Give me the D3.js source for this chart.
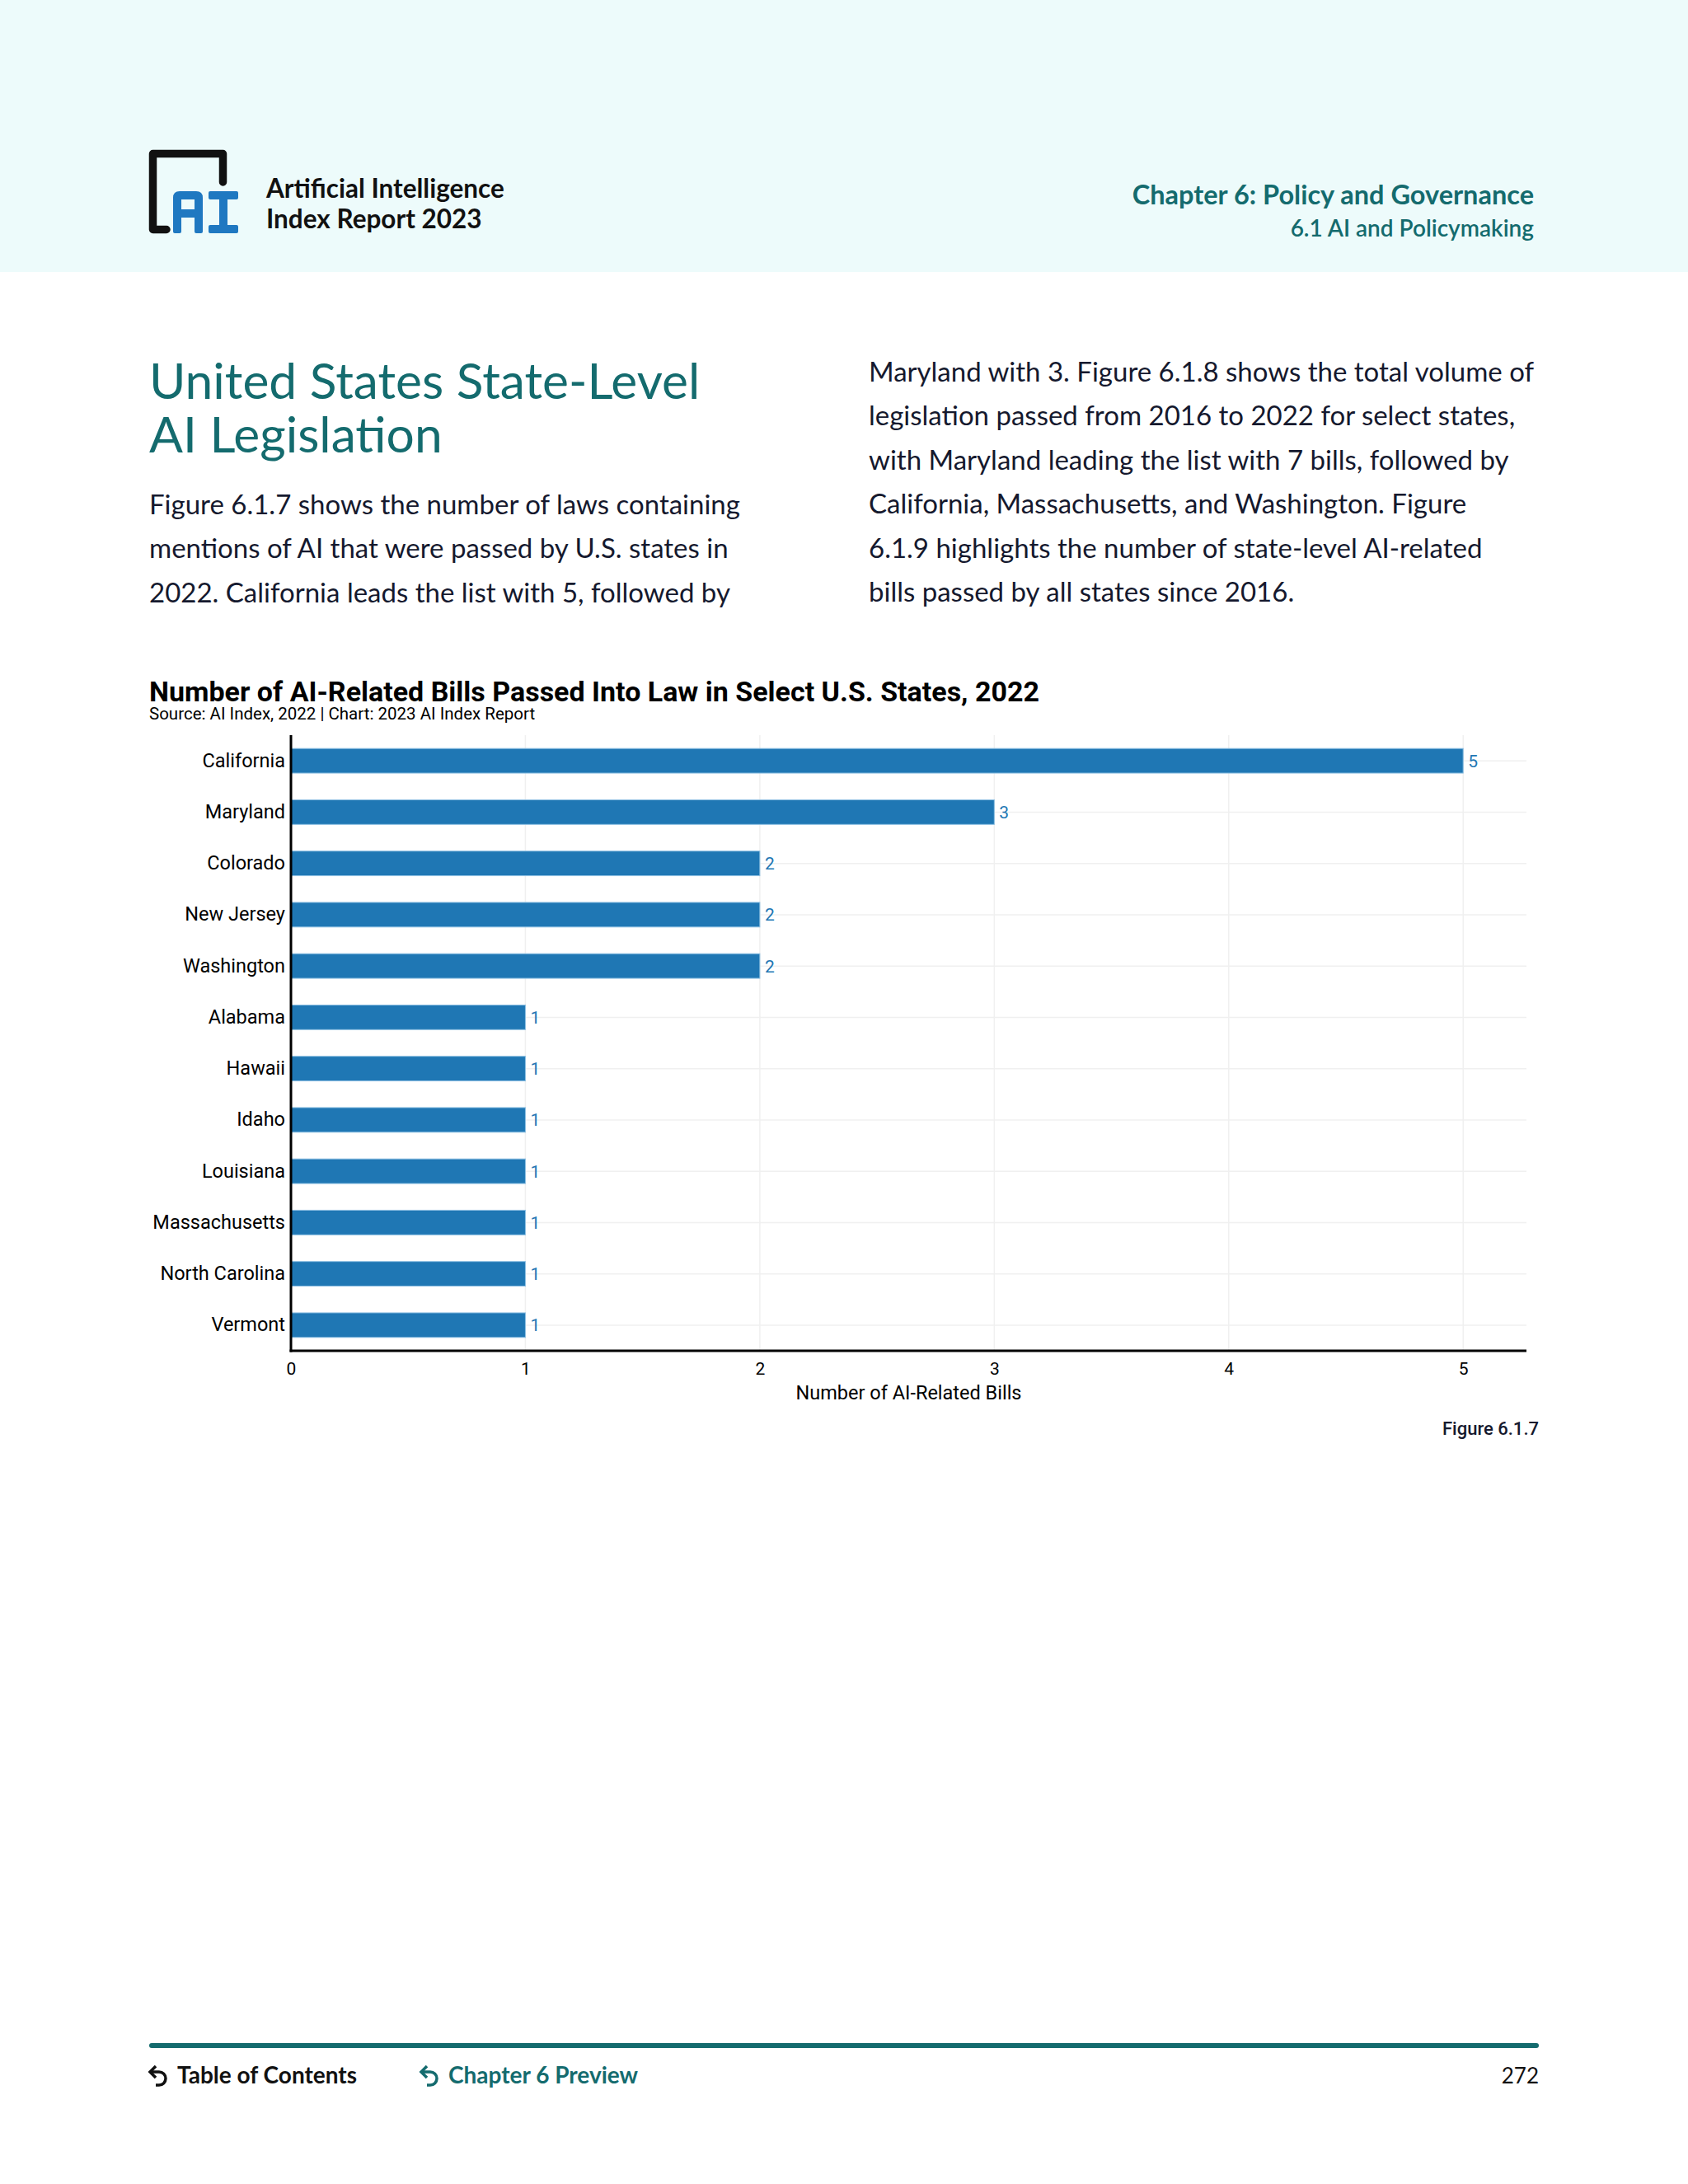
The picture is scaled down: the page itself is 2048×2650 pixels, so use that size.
<!DOCTYPE html>
<html>
<head>
<meta charset="utf-8">
<script src="https://cdn.jsdelivr.net/npm/d3@7"></script>
<style>
  body { margin: 0; background: #fff; }
  text { font-family: Lato, "Noto Sans", sans-serif; }
  .chart text { font-family: Roboto, "Noto Sans", sans-serif; }
</style>
</head>
<body>
<script>
// data
var states = ["California", "Maryland", "Colorado", "New Jersey", "Washington", "Alabama",
              "Hawaii", "Idaho", "Louisiana", "Massachusetts", "North Carolina", "Vermont"];
var bills = [5, 3, 2, 2, 2, 1, 1, 1, 1, 1, 1, 1];
var xTicks = [0, 1, 2, 3, 4, 5];

var leftText = [
  "Figure 6.1.7 shows the number of laws containing",
  "mentions of AI that were passed by U.S. states in",
  "2022. California leads the list with 5, followed by"
];
var rightText = [
  "Maryland with 3. Figure 6.1.8 shows the total volume of",
  "legislation passed from 2016 to 2022 for select states,",
  "with Maryland leading the list with 7 bills, followed by",
  "California, Massachusetts, and Washington. Figure",
  "6.1.9 highlights the number of state-level AI-related",
  "bills passed by all states since 2016."
];

var teal = "#146b6e", navy = "#15192e", blue = "#1f77b4";

var svg = d3.select("body")
            .append("svg")
            .attr("width", 2048)
            .attr("height", 2650);

// header band
svg.append("rect").attr("x", 0).attr("y", 0).attr("width", 2048).attr("height", 330)
   .attr("fill", "#edfbfb");

// logo
var logo = svg.append("g");
logo.append("path")
    .attr("d", "M202,278.5 H185.5 V186.5 H270.5 V221")
    .attr("fill", "none").attr("stroke", "#111").attr("stroke-width", 9.5)
    .attr("stroke-linejoin", "round").attr("stroke-linecap", "round");
logo.append("path")
    .attr("d", "M210,281 V240 Q210,232 218,232 H238 Q246,232 246,240 V281 Q246,283 244,283 H238 Q236,283 236,281 V264 H220 V281 Q220,283 218,283 H212 Q210,283 210,281 Z M220,242 H236 V254 H220 Z")
    .attr("fill", "#1f78c1").attr("fill-rule", "evenodd");
logo.append("path")
    .attr("d", "M253,234 Q253,232 255,232 H287 Q289,232 289,234 V240 Q289,242 287,242 H276 V273 H287 Q289,273 289,275 V281 Q289,283 287,283 H255 Q253,283 253,281 V275 Q253,273 255,273 H266 V242 H255 Q253,242 253,240 Z")
    .attr("fill", "#1f78c1");

svg.append("text").attr("x", 323).attr("y", 240)
   .attr("font-size", 31.5).attr("font-weight", 700).attr("fill", "#111")
   .text("Artificial Intelligence");
svg.append("text").attr("x", 323).attr("y", 277)
   .attr("font-size", 31.5).attr("font-weight", 700).attr("fill", "#111")
   .text("Index Report 2023");

svg.append("text").attr("x", 1861).attr("y", 248).attr("text-anchor", "end")
   .attr("font-size", 32.5).attr("font-weight", 700).attr("fill", teal)
   .text("Chapter 6: Policy and Governance");
svg.append("text").attr("x", 1861).attr("y", 287).attr("text-anchor", "end")
   .attr("font-size", 28).attr("font-weight", 600).attr("fill", teal)
   .text("6.1 AI and Policymaking");

// section heading
svg.append("text").attr("x", 181).attr("y", 484)
   .attr("font-size", 60.5).attr("fill", teal).text("United States State-Level");
svg.append("text").attr("x", 181).attr("y", 549)
   .attr("font-size", 60.5).attr("fill", teal).text("AI Legislation");

svg.selectAll(".lt").data(leftText).enter().append("text")
   .attr("x", 181).attr("y", function(d, i) { return 624 + i * 53.4; })
   .attr("font-size", 33).attr("fill", navy).text(function(d) { return d; });
svg.selectAll(".rt").data(rightText).enter().append("text")
   .attr("x", 1054).attr("y", function(d, i) { return 463 + i * 53.4; })
   .attr("font-size", 33).attr("fill", navy).text(function(d) { return d; });

// chart
var chart = svg.append("g").attr("class", "chart");

chart.append("text").attr("x", 181).attr("y", 851)
     .attr("font-size", 34).attr("font-weight", 700).attr("fill", "#000")
     .text("Number of AI-Related Bills Passed Into Law in Select U.S. States, 2022");
chart.append("text").attr("x", 181).attr("y", 873)
     .attr("font-size", 20.5).attr("fill", "#000")
     .text("Source: AI Index, 2022 | Chart: 2023 AI Index Report");

var plotL = 353, plotR = 1852, plotT = 892, plotB = 1639;

var x = d3.scaleLinear().domain([0, 5.27]).range([plotL, plotR]);
var y = d3.scaleBand().domain(states).range([plotT, plotB])
          .paddingInner(0.52).paddingOuter(0.26);

// grid
chart.selectAll(".vgrid").data(xTicks.slice(1)).enter().append("line")
     .attr("x1", function(d) { return x(d); }).attr("x2", function(d) { return x(d); })
     .attr("y1", plotT).attr("y2", plotB)
     .attr("stroke", "#f0f0f0").attr("stroke-width", 1.5);
chart.selectAll(".hgrid").data(states).enter().append("line")
     .attr("x1", plotL).attr("x2", plotR)
     .attr("y1", function(d) { return y(d) + y.bandwidth() / 2; })
     .attr("y2", function(d) { return y(d) + y.bandwidth() / 2; })
     .attr("stroke", "#f0f0f0").attr("stroke-width", 1.5);

// bars
chart.selectAll(".bar").data(states).enter().append("rect")
     .attr("x", x(0))
     .attr("y", function(d) { return y(d); })
     .attr("width", function(d, i) { return x(bills[i]) - x(0); })
     .attr("height", y.bandwidth())
     .attr("fill", blue)
     .attr("stroke", "#8fc1e3").attr("stroke-width", 1);

chart.selectAll(".val").data(states).enter().append("text")
     .attr("x", function(d, i) { return x(bills[i]) + 6; })
     .attr("y", function(d) { return y(d) + y.bandwidth() / 2; })
     .attr("dy", "0.36em")
     .attr("font-size", 21).attr("fill", blue)
     .text(function(d, i) { return bills[i]; });

// axes
var yAxis = chart.append("g").attr("transform", "translate(" + plotL + ",0)")
     .call(d3.axisLeft(y).tickSize(0).tickPadding(7));
yAxis.select(".domain").remove();
yAxis.selectAll("text").attr("font-size", 23.5).attr("fill", "#000")
     .attr("font-family", "Roboto, sans-serif");

var xAxis = chart.append("g").attr("transform", "translate(0," + plotB + ")")
     .call(d3.axisBottom(x).tickValues(xTicks).tickSize(0).tickPadding(14)
             .tickFormat(d3.format("d")));
xAxis.select(".domain").remove();
xAxis.selectAll("text").attr("font-size", 21).attr("fill", "#000")
     .attr("font-family", "Roboto, sans-serif");

chart.append("line").attr("x1", plotL).attr("x2", plotL).attr("y1", plotT).attr("y2", plotB + 1.5)
     .attr("stroke", "#000").attr("stroke-width", 3);
chart.append("line").attr("x1", plotL - 1.5).attr("x2", plotR).attr("y1", plotB).attr("y2", plotB)
     .attr("stroke", "#000").attr("stroke-width", 3);

chart.append("text").attr("x", (plotL + plotR) / 2).attr("y", 1698).attr("text-anchor", "middle")
     .attr("font-size", 23.5).attr("fill", "#000").text("Number of AI-Related Bills");

chart.append("text").attr("x", 1867).attr("y", 1741).attr("text-anchor", "end")
     .attr("font-size", 22).attr("font-weight", 500).attr("fill", navy).text("Figure 6.1.7");

// footer
svg.append("line").attr("x1", 184).attr("x2", 1864).attr("y1", 2482).attr("y2", 2482)
   .attr("stroke", teal).attr("stroke-width", 6).attr("stroke-linecap", "round");

function backArrow(g, x0, y0, color) {
  g.append("path")
   .attr("d", "M" + (x0 + 4) + "," + (y0 - 12) + " H" + (x0 + 13) + " A8,8 0 0 1 " + (x0 + 13) + "," + (y0 + 4) + " H" + (x0 + 9))
   .attr("fill", "none").attr("stroke", color).attr("stroke-width", 3.5);
  g.append("path")
   .attr("d", "M" + (x0 + 9) + "," + (y0 - 19) + " L" + (x0 + 2) + "," + (y0 - 12) + " L" + (x0 + 9) + "," + (y0 - 5))
   .attr("fill", "none").attr("stroke", color).attr("stroke-width", 3.5);
}
backArrow(svg, 180, 2526, "#111");
backArrow(svg, 509, 2526, teal);

svg.append("text").attr("x", 215).attr("y", 2528)
   .attr("font-size", 28).attr("font-weight", 700).attr("fill", "#111").text("Table of Contents");
svg.append("text").attr("x", 544).attr("y", 2528)
   .attr("font-size", 28).attr("font-weight", 700).attr("fill", teal).text("Chapter 6 Preview");
svg.append("text").attr("x", 1867).attr("y", 2528).attr("text-anchor", "end")
   .attr("font-size", 26).attr("fill", "#111").text("272");
</script>
</body>
</html>
